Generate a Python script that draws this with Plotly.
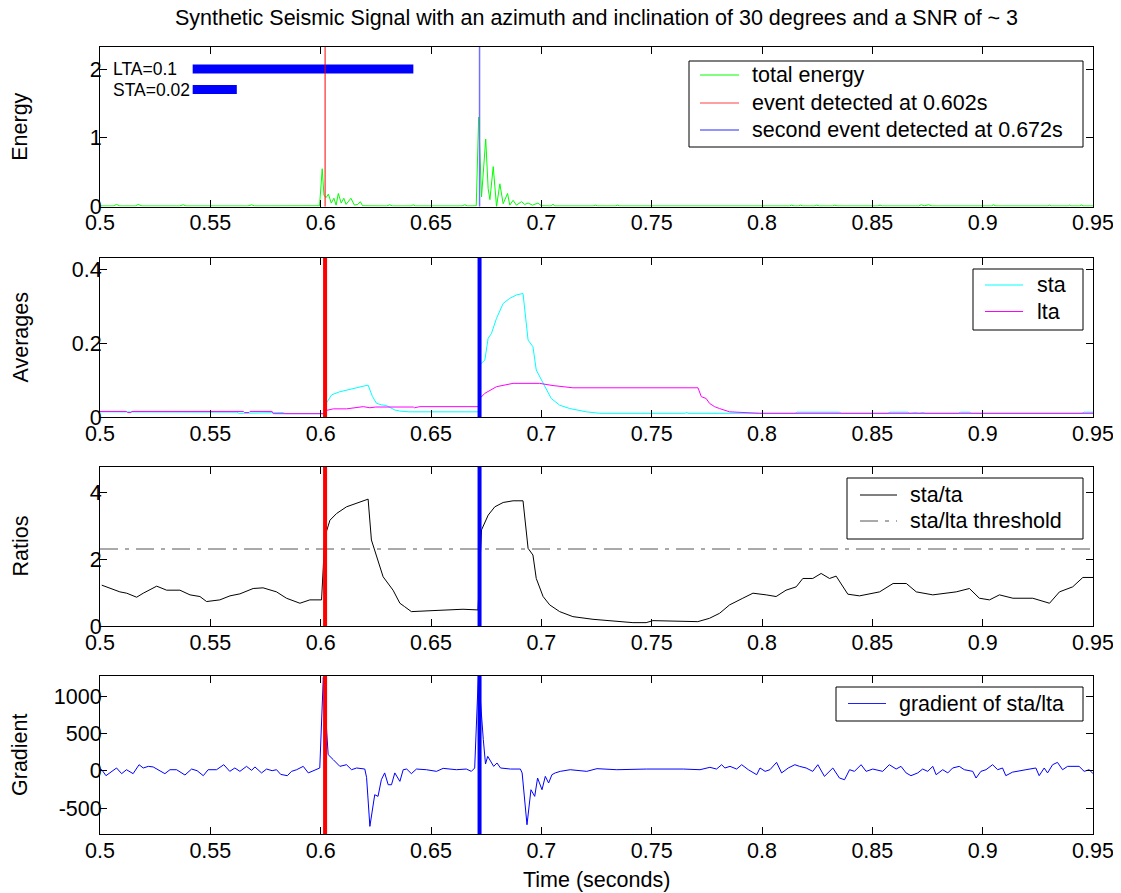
import plotly.graph_objects as go

# ---------------- data ----------------
time_ticks = [0.5, 0.55, 0.6, 0.65, 0.7, 0.75, 0.8, 0.85, 0.9, 0.95]
time_tick_labels = ["0.5", "0.55", "0.6", "0.65", "0.7", "0.75", "0.8", "0.85", "0.9", "0.95"]

energy_t = [0.500, 0.506, 0.5075, 0.509, 0.516, 0.5173, 0.519, 0.536, 0.5377, 0.539,
            0.567, 0.5687, 0.570, 0.5995, 0.6007, 0.6015, 0.6025, 0.6035, 0.6048, 0.606,
            0.607, 0.608, 0.6093, 0.6105, 0.6115, 0.6125, 0.6137, 0.6153, 0.6168, 0.618,
            0.619, 0.630, 0.6313, 0.6325, 0.641, 0.6419, 0.643, 0.664, 0.6653, 0.6665,
            0.6705, 0.6716, 0.6729, 0.6748, 0.6759, 0.6767, 0.6782, 0.6797, 0.6812, 0.6827,
            0.6847, 0.6857, 0.6872, 0.6887, 0.691, 0.6925, 0.694, 0.696, 0.6985, 0.700,
            0.7045, 0.7053, 0.706, 0.7235, 0.7245, 0.7255, 0.7335, 0.7345, 0.7355, 0.8125,
            0.8133, 0.8145, 0.8165, 0.8175, 0.8185, 0.824, 0.8248, 0.826, 0.832, 0.833,
            0.834, 0.8525, 0.8535, 0.8545, 0.871, 0.8722, 0.8735, 0.8755, 0.877, 0.904,
            0.9048, 0.906, 0.9296, 0.9303, 0.931, 0.9388, 0.9394, 0.940, 0.944, 0.9446,
            0.9455, 0.950]
energy_v = [0.008, 0.008, 0.03, 0.008, 0.008, 0.03, 0.008, 0.008, 0.025, 0.008,
            0.008, 0.025, 0.008, 0.01, 0.55, 0.16, 0.13, 0.18, 0.05, 0.12,
            0.02, 0.19, 0.05, 0.12, 0.03, 0.08, 0.12, 0.02, 0.03, 0.07,
            0.01, 0.008, 0.025, 0.008, 0.008, 0.025, 0.008, 0.008, 0.025, 0.008,
            0.01, 1.30, 0.14, 0.98, 0.26, 0.10, 0.58, 0.0, 0.33, 0.04,
            0.19, 0.02, 0.09, 0.02, 0.07, 0.03, 0.05, 0.02, 0.05, 0.01,
            0.008, 0.035, 0.008, 0.008, 0.02, 0.008, 0.008, 0.02, 0.008, 0.008,
            0.02, 0.008, 0.008, 0.02, 0.008, 0.008, 0.02, 0.008, 0.008, 0.02,
            0.008, 0.008, 0.02, 0.008, 0.008, 0.025, 0.01, 0.025, 0.008, 0.008,
            0.025, 0.008, 0.008, 0.02, 0.008, 0.008, 0.02, 0.008, 0.008, 0.025,
            0.008, 0.008]

sta_t = [0.500, 0.510, 0.511, 0.528, 0.529, 0.562, 0.563, 0.576, 0.577, 0.583,
         0.584, 0.6015, 0.6025, 0.605, 0.6085, 0.6117, 0.6162, 0.6205, 0.6215, 0.6235,
         0.6253, 0.6275, 0.6298, 0.6336, 0.6359, 0.640, 0.6715, 0.6721, 0.6744, 0.6759,
         0.6774, 0.6797, 0.6827, 0.6857, 0.6887, 0.6917, 0.694, 0.6962, 0.6977, 0.700,
         0.7023, 0.7045, 0.7083, 0.7128, 0.7204, 0.7264, 0.765, 0.766, 0.7665, 0.815,
         0.816, 0.835, 0.836, 0.857, 0.858, 0.866, 0.867, 0.870, 0.871, 0.873,
         0.874, 0.889, 0.890, 0.894, 0.895, 0.945, 0.946, 0.950]
sta_v = [0.014, 0.014, 0.012, 0.012, 0.013, 0.013, 0.010, 0.011, 0.012, 0.012,
         0.009, 0.009, 0.037, 0.060, 0.068, 0.073, 0.080, 0.085, 0.086, 0.055,
         0.037, 0.033, 0.031, 0.019, 0.016, 0.014, 0.014, 0.141, 0.154, 0.213,
         0.226, 0.267, 0.307, 0.321, 0.330, 0.334, 0.208, 0.190, 0.127, 0.100,
         0.073, 0.050, 0.032, 0.023, 0.014, 0.010, 0.010, 0.012, 0.010, 0.010,
         0.013, 0.013, 0.010, 0.010, 0.013, 0.013, 0.010, 0.012, 0.010, 0.012,
         0.010, 0.010, 0.013, 0.013, 0.010, 0.010, 0.013, 0.013]

lta_t = [0.500, 0.512, 0.5125, 0.514, 0.5145, 0.565, 0.5655, 0.5675, 0.568, 0.578,
         0.5785, 0.6015, 0.602, 0.6057, 0.6117, 0.6193, 0.6223, 0.625, 0.642, 0.6425,
         0.645, 0.6715, 0.6721, 0.6744, 0.6797, 0.6827, 0.6872, 0.6992, 0.7053, 0.7143,
         0.7710, 0.7725, 0.7747, 0.7762, 0.7785, 0.7807, 0.7853, 0.7989, 0.950]
lta_v = [0.015, 0.015, 0.012, 0.012, 0.015, 0.015, 0.012, 0.012, 0.015, 0.015,
         0.009, 0.009, 0.017, 0.022, 0.022, 0.028, 0.025, 0.027, 0.027, 0.025,
         0.028, 0.028, 0.050, 0.064, 0.082, 0.086, 0.091, 0.091, 0.085, 0.079,
         0.079, 0.055, 0.050, 0.037, 0.028, 0.023, 0.014, 0.010, 0.010]

ratio_t = [0.5008, 0.5045, 0.509, 0.5121, 0.5166, 0.5196, 0.5257, 0.5302, 0.5362, 0.5408,
           0.5453, 0.5483, 0.5543, 0.5589, 0.5634, 0.5694, 0.5739, 0.5800, 0.5845, 0.5906,
           0.5951, 0.6004, 0.6019, 0.6042, 0.6072, 0.6117, 0.6163, 0.6215, 0.623, 0.6253,
           0.6283, 0.6328, 0.6359, 0.6380, 0.6411, 0.6509, 0.6645, 0.6713, 0.6729, 0.6759,
           0.6789, 0.6827, 0.6872, 0.6917, 0.694, 0.6962, 0.6977, 0.7008, 0.7038, 0.7083,
           0.7143, 0.7234, 0.7339, 0.7415, 0.7475, 0.7506, 0.7709, 0.7762, 0.7808, 0.7853,
           0.7913, 0.7959, 0.8019, 0.8064, 0.8109, 0.8155, 0.8185, 0.823, 0.8268, 0.8306,
           0.8336, 0.8389, 0.8442, 0.8533, 0.8594, 0.8654, 0.8699, 0.8774, 0.888, 0.894,
           0.8985, 0.9031, 0.9076, 0.9137, 0.9227, 0.9303, 0.9348, 0.9408, 0.9454, 0.950]
ratio_v = [1.22, 1.12, 1.02, 0.98, 0.86, 0.98, 1.19, 1.07, 1.07, 0.93,
           0.88, 0.73, 0.78, 0.90, 0.96, 1.12, 1.14, 1.02, 0.83, 0.68,
           0.78, 0.78, 2.67, 3.16, 3.36, 3.56, 3.66, 3.79, 2.57, 2.07,
           1.47, 1.07, 0.68, 0.58, 0.43, 0.46, 0.50, 0.48, 2.87, 3.31,
           3.56, 3.69, 3.74, 3.74, 2.32, 2.12, 1.42, 0.88, 0.63, 0.43,
           0.28, 0.20, 0.13, 0.10, 0.10, 0.16, 0.13, 0.23, 0.38, 0.63,
           0.83, 0.98, 0.93, 0.88, 1.07, 1.17, 1.42, 1.42, 1.57, 1.42,
           1.49, 0.95, 0.90, 1.02, 1.27, 1.27, 1.02, 0.93, 1.02, 1.12,
           0.83, 0.78, 0.93, 0.83, 0.83, 0.68, 1.02, 1.17, 1.45, 1.45]

threshold_value = 2.3

grad_t = [0.5000, 0.5008, 0.5027, 0.5053, 0.5075, 0.5098, 0.5120, 0.5150, 0.5177, 0.5196,
          0.5219, 0.5241, 0.5265, 0.5294, 0.5317, 0.5347, 0.5385, 0.5415, 0.5440, 0.5468,
          0.5490, 0.5528, 0.5561, 0.5588, 0.5611, 0.5634, 0.5664, 0.5687, 0.5702, 0.5732,
          0.5755, 0.5780, 0.5800, 0.5819, 0.5849, 0.5868, 0.5891, 0.5921, 0.5944, 0.5974,
          0.5996, 0.6012, 0.6034, 0.6057, 0.6087, 0.6117, 0.6140, 0.6163, 0.6200, 0.6208,
          0.6223, 0.6245, 0.6260, 0.6275, 0.6290, 0.6306, 0.6321, 0.6336, 0.6359, 0.6374,
          0.6390, 0.6411, 0.6434, 0.6479, 0.6525, 0.6555, 0.6615, 0.6660, 0.6683, 0.6698,
          0.6715, 0.6737, 0.6747, 0.6757, 0.6772, 0.6784, 0.6799, 0.6815, 0.6860, 0.6905,
          0.6913, 0.6935, 0.6953, 0.6970, 0.6983, 0.7003, 0.7018, 0.7033, 0.7048, 0.7063,
          0.7086, 0.7131, 0.7206, 0.7252, 0.7342, 0.7477, 0.7643, 0.7719, 0.7764, 0.7794,
          0.7817, 0.7832, 0.7855, 0.7885, 0.7908, 0.7938, 0.7976, 0.7991, 0.8014, 0.8036,
          0.8066, 0.8089, 0.8119, 0.8149, 0.8170, 0.8200, 0.8230, 0.8253, 0.8283, 0.8321,
          0.8351, 0.8374, 0.8397, 0.8419, 0.8449, 0.8472, 0.8502, 0.8547, 0.8577, 0.8608,
          0.8630, 0.8653, 0.8675, 0.8706, 0.8728, 0.8751, 0.8774, 0.8789, 0.8819, 0.8842,
          0.8864, 0.8894, 0.8917, 0.8955, 0.8970, 0.8992, 0.9015, 0.9045, 0.9068, 0.9090,
          0.9105, 0.9135, 0.9196, 0.9241, 0.9256, 0.9279, 0.9294, 0.9317, 0.9339, 0.9362,
          0.9385, 0.9407, 0.9437, 0.9460, 0.9483, 0.9500]
grad_v = [20, 13, -67, -9, 36, -40, 13, -40, 80, 36,
          58, 50, 10, -40, 13, 13, -58, 22, 0, -67,
          13, 13, 80, -9, 36, -9, 58, 4, 50, -30,
          22, 0, 13, -50, -67, -9, 13, 58, -30, 13,
          36, 1250, 215, 148, 58, 80, 13, 36, 22, -90,
          -746, -322, -344, -121, -30, -188, -188, -30, -143, 13,
          22, -40, 22, 13, -9, 31, 13, 22, -9, 36,
          1300, 416, 89, 192, 125, 58, 103, 36, 22, 22,
          -30, -724, -255, -344, -98, -255, -76, -165, -54, -30,
          -9, 13, -9, 27, 13, 22, 22, 13, 45, 22,
          80, 36, 58, 22, 80, 13, -54, 36, -9, 13,
          111, -30, 36, 80, 58, 36, -9, 80, -76, 36,
          -98, -121, 13, -9, 80, -9, 22, -9, 80, 22,
          58, -30, -67, -30, 22, -9, 58, -54, 13, -30,
          36, 58, 13, -9, -98, -9, 13, 80, 13, 36,
          -67, -20, 13, 36, -67, 36, -30, 80, 111, 13,
          58, 58, 58, -9, 13, -40]

event1_time = 0.602
event2_time = 0.672
window_start = 0.542
lta_len = 0.1
sta_len = 0.02
lta_bar_level = 2.0
sta_bar_level = 1.7

energy_yticks = [0, 1, 2]
avg_yticks = [0, 0.2, 0.4]
avg_ytick_labels = ["0", "0.2", "0.4"]
ratio_yticks = [0, 2, 4]
grad_yticks = [-500, 0, 500, 1000]

legend1_labels = ["total energy", "event detected at 0.602s", "second event detected at 0.672s"]
legend2_labels = ["sta", "lta"]
legend3_labels = ["sta/ta", "sta/lta threshold"]
legend4_labels = ["gradient of sta/lta"]

# ---------------- geometry (reference-screen pixels; page body adds 8px) ----------------
OFF = 8
FONT = "Liberation Sans, Arial, Helvetica, sans-serif"
FS = 21.5
W, H = 1121 - OFF, 893 - OFF
PLOT_L, PLOT_R, PLOT_T, PLOT_B = 100, 1093, 47, 834
ML = PLOT_L - OFF
MR = W - (PLOT_R - OFF)
MT = PLOT_T - OFF
MB = H - (PLOT_B - OFF)
PW = W - ML - MR
PH = H - MT - MB


def px_x(xr):
    return (xr - PLOT_L) / PW


def px_y(yr):
    return (PLOT_B - yr) / PH


def dom(top_px, bottom_px):
    return [px_y(bottom_px), px_y(top_px)]


domains = [dom(47, 206.5), dom(258, 417), dom(467, 626), dom(676, 834)]
yranges = [[0, 2.32], [0, 0.43], [0, 4.75], [-848, 1268]]

fig = go.Figure()

# panel 1
fig.add_trace(go.Scatter(x=energy_t, y=energy_v, mode="lines", name=legend1_labels[0],
                         line=dict(color="#00ff00", width=1), xaxis="x", yaxis="y"))
fig.add_trace(go.Scatter(x=[window_start, window_start + lta_len], y=[lta_bar_level, lta_bar_level],
                         mode="lines", line=dict(color="#0000ff", width=9), xaxis="x", yaxis="y"))
fig.add_trace(go.Scatter(x=[window_start, window_start + sta_len], y=[sta_bar_level, sta_bar_level],
                         mode="lines", line=dict(color="#0000ff", width=9), xaxis="x", yaxis="y"))

# panel 2
fig.add_trace(go.Scatter(x=sta_t, y=sta_v, mode="lines", name=legend2_labels[0],
                         line=dict(color="#00ffff", width=1), xaxis="x2", yaxis="y2"))
fig.add_trace(go.Scatter(x=lta_t, y=lta_v, mode="lines", name=legend2_labels[1],
                         line=dict(color="#ff00ff", width=1), xaxis="x2", yaxis="y2"))

# panel 3
THR_DASH = "18px,7px,4px,7px"
fig.add_trace(go.Scatter(x=ratio_t, y=ratio_v, mode="lines", name=legend3_labels[0],
                         line=dict(color="#000000", width=1), xaxis="x3", yaxis="y3"))
fig.add_trace(go.Scatter(x=[time_ticks[0], time_ticks[-1]], y=[threshold_value, threshold_value],
                         mode="lines", name=legend3_labels[1],
                         line=dict(color="#555555", width=1, dash=THR_DASH),
                         xaxis="x3", yaxis="y3"))

# panel 4
fig.add_trace(go.Scatter(x=grad_t, y=grad_v, mode="lines", name=legend4_labels[0],
                         line=dict(color="#0000ff", width=1), xaxis="x4", yaxis="y4"))

shapes = []
shapes.append(dict(type="line", xref="x", yref="y domain", x0=event1_time, x1=event1_time,
                   y0=0, y1=1, line=dict(color="#ff0000", width=1)))
shapes.append(dict(type="line", xref="x", yref="y domain", x0=event2_time, x1=event2_time,
                   y0=0, y1=1, line=dict(color="#7070ff", width=1.5)))
for k in (2, 3, 4):
    shapes.append(dict(type="line", xref=f"x{k}", yref=f"y{k} domain", x0=event1_time, x1=event1_time,
                       y0=0, y1=1, line=dict(color="#ff0000", width=4)))
    shapes.append(dict(type="line", xref=f"x{k}", yref=f"y{k} domain", x0=event2_time, x1=event2_time,
                       y0=0, y1=1, line=dict(color="#0000ff", width=4)))

ann = []


# hand-drawn MATLAB-style legends (box, sample lines, labels), in reference pixels
def add_legend(box, sample_x, text_x, rows, labels, styles):
    x0, x1, y0, y1 = box
    shapes.append(dict(type="rect", xref="paper", yref="paper", x0=px_x(x0), x1=px_x(x1),
                       y0=px_y(y1), y1=px_y(y0), fillcolor="white",
                       line=dict(color="black", width=1)))
    for yrow, lab, st in zip(rows, labels, styles):
        shapes.append(dict(type="line", xref="paper", yref="paper", x0=px_x(sample_x[0]),
                           x1=px_x(sample_x[1]), y0=px_y(yrow), y1=px_y(yrow), line=st))
        ann.append(dict(text=lab, xref="paper", yref="paper", x=px_x(text_x), y=px_y(yrow),
                        xanchor="left", yanchor="middle", showarrow=False,
                        font=dict(family=FONT, size=FS, color="black")))


add_legend((689, 1083, 61, 147), (700, 739), 750, [75, 103, 130], legend1_labels,
           [dict(color="#00ff00", width=1), dict(color="#ff4040", width=1),
            dict(color="#7070ff", width=1.5)])
add_legend((973, 1083, 269, 330), (985, 1023), 1035, [285, 311.5], legend2_labels,
           [dict(color="#00ffff", width=1), dict(color="#ff00ff", width=1)])
add_legend((847, 1083, 478, 539), (860, 897), 908, [495, 521], legend3_labels,
           [dict(color="#000000", width=1), dict(color="#555555", width=1, dash=THR_DASH)])
add_legend((836, 1083, 687, 721), (848, 886), 897, [703.5], legend4_labels,
           [dict(color="#2020ff", width=1)])

axis_common = dict(showline=True, linecolor="black", linewidth=1, mirror="ticks",
                   ticks="inside", ticklen=7, tickcolor="black", tickwidth=1,
                   showgrid=False, zeroline=False,
                   tickfont=dict(family=FONT, size=FS, color="black"))

layout = dict(width=W, height=H, margin=dict(l=ML, r=MR, t=MT, b=MB, autoexpand=False),
              paper_bgcolor="white", plot_bgcolor="white", showlegend=False,
              font=dict(family=FONT, color="black"),
              title=dict(text="Synthetic Seismic Signal with an azimuth and inclination of 30 degrees and a SNR of ~ 3",
                         x=0.5, xref="paper", xanchor="center", y=1 - (17.5 - OFF) / H, yanchor="middle",
                         font=dict(family=FONT, size=FS, color="black")))

ytick_sets = [
    (energy_yticks, [str(v) for v in energy_yticks]),
    (avg_yticks, avg_ytick_labels),
    (ratio_yticks, [str(v) for v in ratio_yticks]),
    (grad_yticks, [str(v) for v in grad_yticks]),
]
for i in range(4):
    sx = "" if i == 0 else str(i + 1)
    layout["xaxis" + sx] = dict(axis_common, domain=[0, 1], anchor="y" + sx, range=[0.5, 0.95],
                                tickvals=time_ticks, ticktext=time_tick_labels,
                                ticklabelstandoff=-3)
    layout["yaxis" + sx] = dict(axis_common, domain=domains[i], anchor="x" + sx, range=yranges[i],
                                tickvals=ytick_sets[i][0], ticktext=ytick_sets[i][1],
                                ticklabelstandoff=-7)

ylabels = ["Energy", "Averages", "Ratios", "Gradient"]
for i, lab in enumerate(ylabels):
    ann.append(dict(text=lab, xref="paper", yref="paper", x=px_x(20),
                    y=sum(domains[i]) / 2, xanchor="center", yanchor="middle", textangle=-90,
                    showarrow=False, font=dict(family=FONT, size=FS, color="black")))
ann.append(dict(text="Time (seconds)", xref="paper", yref="paper", x=0.5, y=px_y(880),
                xanchor="center", yanchor="middle", showarrow=False,
                font=dict(family=FONT, size=FS, color="black")))
ann.append(dict(text="LTA=0.1", xref="x", yref="y", x=0.505, y=lta_bar_level, xanchor="left",
                yanchor="middle", showarrow=False, font=dict(family=FONT, size=17.5, color="black")))
ann.append(dict(text="STA=0.02", xref="x", yref="y", x=0.505, y=sta_bar_level, xanchor="left",
                yanchor="middle", showarrow=False, font=dict(family=FONT, size=17.5, color="black")))

layout["annotations"] = ann
layout["shapes"] = shapes

fig.update_layout(**layout)
fig.write_html("out.html")
